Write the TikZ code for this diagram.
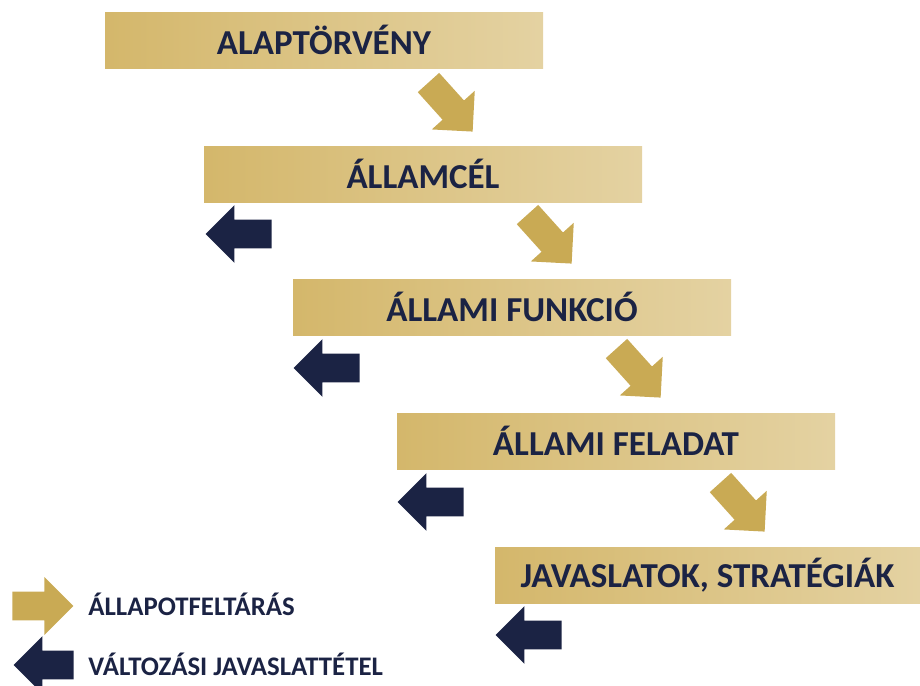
\documentclass[tikz,border=0pt]{standalone}
\usepackage{fontspec}
\setmainfont{Carlito}
\usetikzlibrary{shapes.arrows}

\definecolor{goldL}{HTML}{D4B76B}
\definecolor{goldR}{HTML}{E4D2A2}
\definecolor{goldarr}{HTML}{C9AA54}
\definecolor{navy}{HTML}{1B2344}

\tikzset{
  level/.style={minimum width=219pt, minimum height=28pt, inner sep=0pt,
    left color=goldL, right color=goldR, text=navy,
    font=\fontsize{17.5}{20}\selectfont\bfseries},
  blockarrow/.style={single arrow, draw=none, inner xsep=0pt, inner ysep=7pt,
    minimum height=33pt, minimum width=28.5pt,
    single arrow head extend=7.25pt, single arrow tip angle=90},
  downarrow/.style={blockarrow, fill=goldarr, rotate=-48, anchor=tip},
  backarrow/.style={blockarrow, fill=navy, shape border rotate=180, anchor=tip},
  legendtext/.style={anchor=west, text=navy, inner sep=0pt,
    font=\fontsize{13.4}{16}\selectfont\bfseries}
}

\begin{document}
\begin{tikzpicture}[x=0.5pt, y=0.5pt]

\useasboundingbox (0,0) rectangle (920,-685);

% levels
\node[level] (alap) at (324,-40) {ALAPTÖRVÉNY};
\node[level] (cel) at (423,-174) {ÁLLAMCÉL};
\node[level] (funk) at (512,-307) {ÁLLAMI FUNKCIÓ};
\node[level] (fel) at (616,-441) {ÁLLAMI FELADAT};
\node[level, minimum width=212.5pt] (jav) at (707.5,-575) {JAVASLATOK, STRATÉGIÁK};

% going down
\node[downarrow] (d1) at (473,-132) {};
\node[downarrow] (d2) at (572,-264) {};
\node[downarrow] (d3) at (661,-398) {};
\node[downarrow] (d4) at (765,-532) {};

% going back
\node[backarrow] (b1) at (205,-234) {};
\node[backarrow] (b2) at (293,-368) {};
\node[backarrow] (b3) at (397,-502) {};
\node[backarrow] (b4) at (495,-635) {};

% legend
\node[blockarrow, fill=goldarr, anchor=tail, minimum height=30.5pt] (lgold) at (12,-606) {};
\node[legendtext] (lgoldtxt) at (88,-604) {ÁLLAPOTFELTÁRÁS};

\node[blockarrow, fill=navy, shape border rotate=180, anchor=tip, minimum height=30pt] (lnavy) at (13,-665) {};
\node[legendtext] (lnavytxt) at (88,-664) {VÁLTOZÁSI JAVASLATTÉTEL};

\end{tikzpicture}
\end{document}
